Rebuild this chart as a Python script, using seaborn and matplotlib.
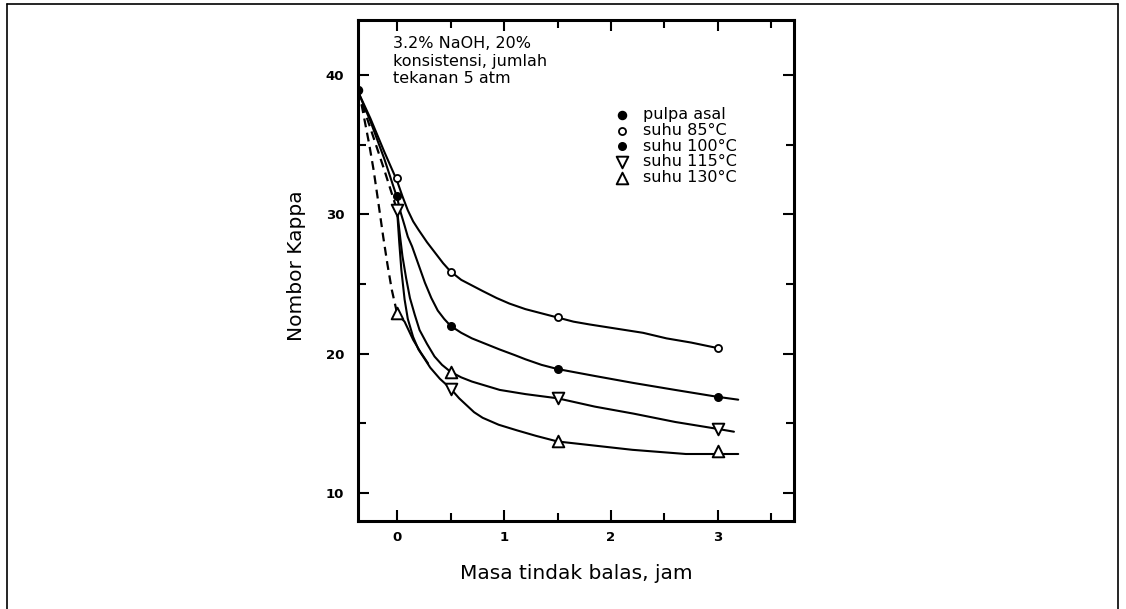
import matplotlib.pyplot as plt
import seaborn as sns
from matplotlib.ticker import MultipleLocator
from matplotlib.lines import Line2D

sns.set_style("ticks")
plt.rcParams['font.family'] = ['DejaVu Sans']
plt.rcParams['text.color'] = 'black'
plt.rcParams['axes.labelcolor'] = 'black'
plt.rcParams['xtick.color'] = 'black'
plt.rcParams['ytick.color'] = 'black'

# measured points (time in hours, kappa number)
time_pulpa = [-0.37]
kappa_pulpa = [38.9]
time = [0, 0.5, 1.5, 3]
kappa_85 = [32.6, 25.9, 22.6, 20.4]
kappa_100 = [31.3, 22.0, 18.9, 16.9]
kappa_115 = [30.3, 17.5, 16.8, 14.6]
kappa_130 = [22.9, 18.7, 13.7, 13.0]

# hand-drawn fit curves
curve_85_x = [-0.37, -0.25, -0.12, 0.0, 0.05, 0.1, 0.15, 0.2, 0.28, 0.36, 0.43, 0.5, 0.6, 0.7, 0.8,
              0.93, 1.05, 1.2, 1.35, 1.5, 1.65, 1.8, 2.05, 2.3, 2.52, 2.75, 3.0]
curve_85_y = [38.9, 36.9, 34.5, 32.4, 31.3, 30.3, 29.5, 28.9, 28.0, 27.2, 26.5, 25.9, 25.3, 24.9, 24.5,
              24.0, 23.6, 23.2, 22.9, 22.6, 22.3, 22.1, 21.8, 21.5, 21.1, 20.8, 20.4]
curve_100_x = [-0.37, -0.25, -0.12, 0.0, 0.035, 0.07, 0.1, 0.14, 0.2, 0.26, 0.32, 0.38, 0.44, 0.5, 0.6,
               0.7, 0.83, 0.96, 1.1, 1.2, 1.35, 1.5, 1.85, 2.21, 2.6, 3.0, 3.19]
curve_100_y = [38.9, 36.7, 34.0, 31.2, 30.1, 29.2, 28.4, 27.7, 26.4, 25.1, 24.0, 23.1, 22.5, 22.0, 21.5,
               21.1, 20.7, 20.3, 19.9, 19.6, 19.2, 18.9, 18.4, 17.9, 17.4, 16.9, 16.7]
curve_up_x = [0.0, 0.025, 0.05, 0.085, 0.12, 0.165, 0.21, 0.28, 0.35, 0.42, 0.5, 0.6, 0.7, 0.83, 0.96,
              1.2, 1.5, 1.85, 2.21, 2.6, 3.0, 3.15]
curve_up_y = [30.3, 28.6, 27.0, 25.4, 24.0, 22.8, 21.7, 20.7, 19.8, 19.2, 18.7, 18.3, 18.0, 17.7, 17.4,
              17.1, 16.8, 16.2, 15.7, 15.1, 14.6, 14.4]
curve_low_x = [0.0, 0.02, 0.04, 0.07, 0.1, 0.15, 0.2, 0.26, 0.31, 0.4, 0.5, 0.58, 0.65, 0.72, 0.8,
               0.95, 1.12, 1.3, 1.5, 1.85, 2.2, 2.7, 3.0, 3.19]
curve_low_y = [30.3, 28.0, 26.0, 23.9, 22.5, 21.2, 20.3, 19.6, 19.0, 18.2, 17.5, 16.8, 16.3, 15.8, 15.4,
               14.9, 14.5, 14.1, 13.7, 13.4, 13.1, 12.8, 12.8, 12.8]
stub_130_x = [0.0, 0.07, 0.15, 0.22, 0.29]
stub_130_y = [22.9, 22.3, 21.0, 20.1, 19.3]
dash_115_x = [-0.37, -0.25, -0.12, 0.0]
dash_115_y = [38.9, 36.2, 33.2, 30.3]
dash_130_x = [-0.37, -0.33, -0.3, -0.26, -0.22, -0.18, -0.13, -0.09, -0.05, 0.0]
dash_130_y = [38.9, 37.8, 36.6, 35.0, 33.2, 31.1, 28.4, 26.4, 24.6, 22.9]

fig = plt.figure(figsize=(11.26, 6.09), dpi=100)
ax = fig.add_axes([0.318, 0.1445, 0.387, 0.8225])

for cx, cy in [(curve_85_x, curve_85_y), (curve_100_x, curve_100_y),
               (curve_up_x, curve_up_y), (curve_low_x, curve_low_y),
               (stub_130_x, stub_130_y)]:
    sns.lineplot(x=cx, y=cy, ax=ax, color='black', lw=1.5, sort=False, estimator=None)
for cx, cy in [(dash_115_x, dash_115_y), (dash_130_x, dash_130_y)]:
    sns.lineplot(x=cx, y=cy, ax=ax, color='black', lw=1.6, sort=False,
                 estimator=None, linestyle=(0, (4, 2.5)))

sns.scatterplot(x=time_pulpa, y=kappa_pulpa, ax=ax, marker='o', s=34, color='black',
                edgecolor='black', linewidth=1, zorder=4, label='pulpa asal')
sns.scatterplot(x=time, y=kappa_85, ax=ax, marker='o', s=26, color='white',
                edgecolor='black', linewidth=1.3, zorder=4, label='suhu 85°C')
sns.scatterplot(x=time, y=kappa_100, ax=ax, marker='o', s=30, color='black',
                edgecolor='black', linewidth=1, zorder=4, label='suhu 100°C')
sns.scatterplot(x=time, y=kappa_115, ax=ax, marker='v', s=70, color='white',
                edgecolor='black', linewidth=1.4, zorder=4, label='suhu 115°C')
sns.scatterplot(x=time, y=kappa_130, ax=ax, marker='^', s=70, color='white',
                edgecolor='black', linewidth=1.4, zorder=4, label='suhu 130°C')

ax.set_xlim(-0.365, 3.71)
ax.set_ylim(7.99, 43.95)
ax.xaxis.set_major_locator(MultipleLocator(1))
ax.xaxis.set_minor_locator(MultipleLocator(0.5))
ax.yaxis.set_major_locator(MultipleLocator(10))
ax.yaxis.set_minor_locator(MultipleLocator(5))
ax.tick_params(which='both', direction='in', top=True, right=True, width=1.5, color='black')
ax.tick_params(which='major', length=8)
ax.tick_params(which='minor', length=6)
ax.tick_params(axis='y', pad=10)
ax.tick_params(axis='x', pad=7)
for lab in ax.get_xticklabels() + ax.get_yticklabels():
    lab.set_fontweight('bold')
    lab.set_fontsize(9.5)
for sp in ax.spines.values():
    sp.set_linewidth(2.2)
    sp.set_color('black')

ax.set_xlabel('Masa tindak balas, jam', fontsize=14.5)
ax.set_ylabel('Nombor Kappa', fontsize=14.5)
ax.xaxis.set_label_coords(0.5, -0.085)
ax.yaxis.set_label_coords(-0.12, 0.51)

ax.text(0.08, 0.968, '3.2% NaOH, 20%\nkonsistensi, jumlah\ntekanan 5 atm',
        transform=ax.transAxes, fontsize=11.5, va='top', ha='left', linespacing=1.2)

ax.legend(loc='upper left', bbox_to_anchor=(0.588, 0.826), frameon=False, fontsize=11.5,
          borderpad=0, borderaxespad=0, handlelength=1.0, handletextpad=0.8,
          labelspacing=0.04)

# outer page frame
fig.add_artist(Line2D([7 / 1126, 7 / 1126], [0, 1 - 4 / 609], transform=fig.transFigure, color='black', lw=1.2))
fig.add_artist(Line2D([1118 / 1126, 1118 / 1126], [0, 1 - 4 / 609], transform=fig.transFigure, color='black', lw=1.2))
fig.add_artist(Line2D([7 / 1126, 1118 / 1126], [1 - 4 / 609, 1 - 4 / 609], transform=fig.transFigure, color='black', lw=1.2))

fig.savefig('out.png', dpi=100, facecolor='white')
